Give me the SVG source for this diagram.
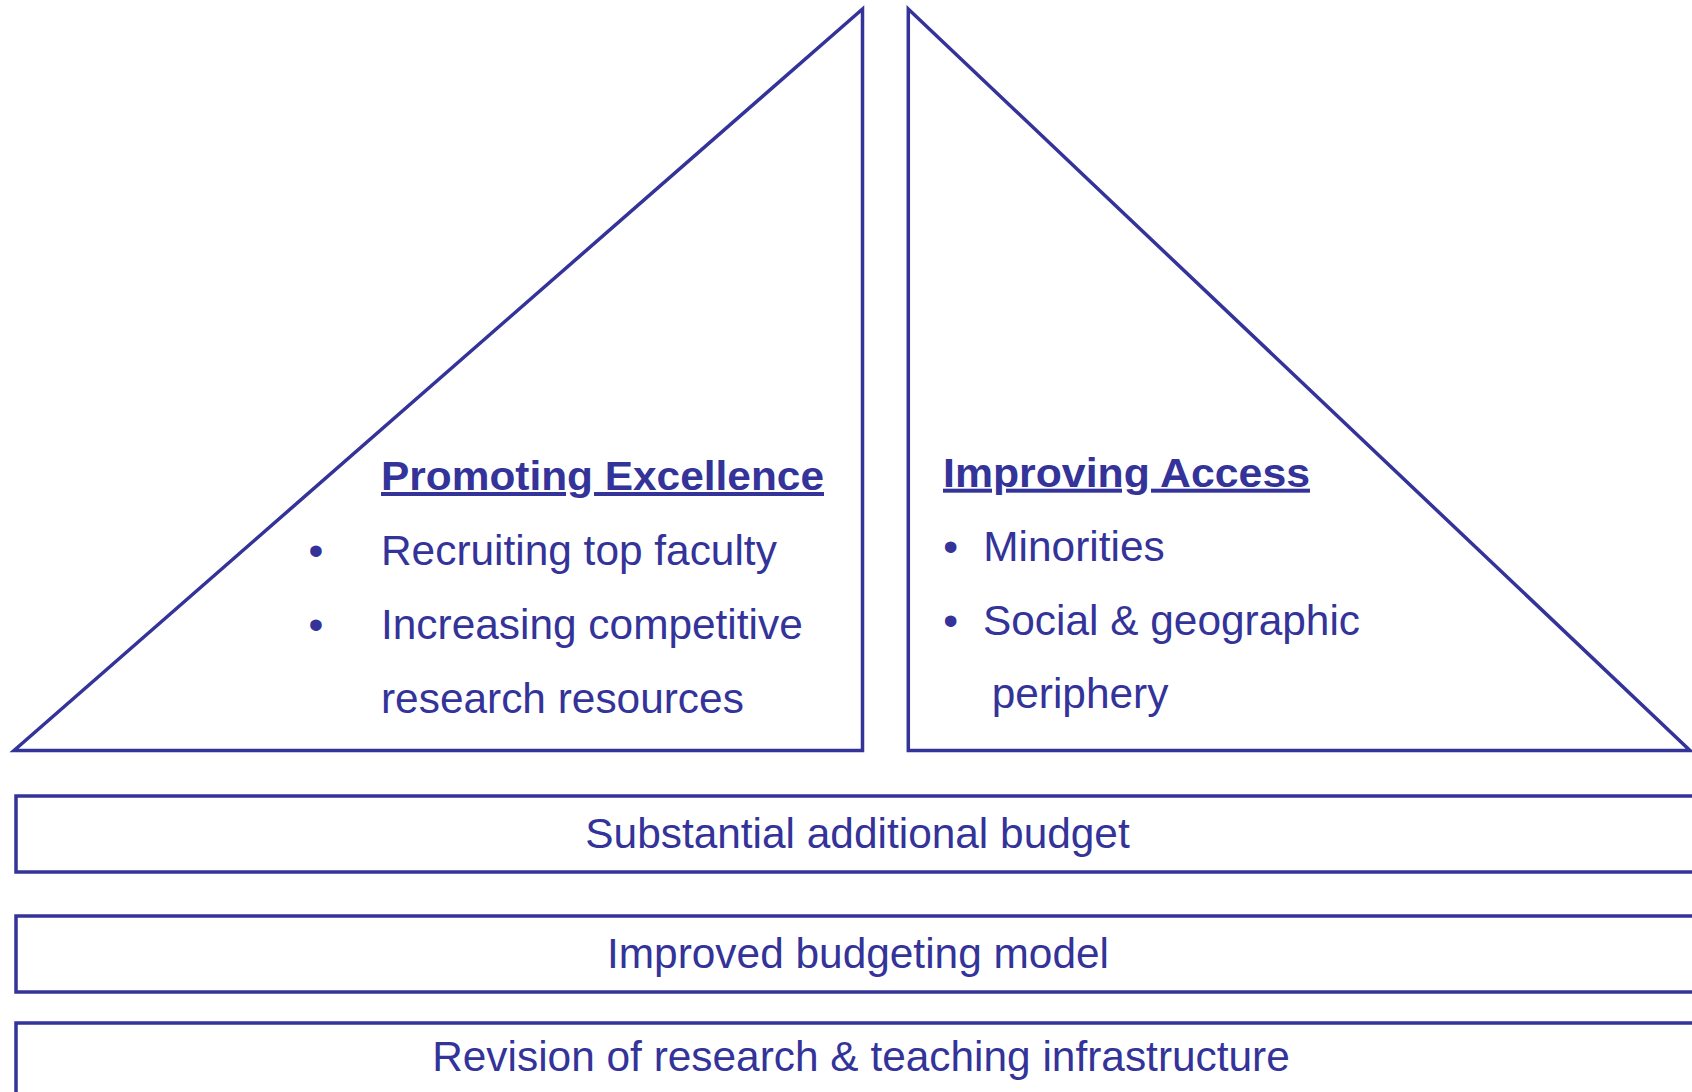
<svg xmlns="http://www.w3.org/2000/svg" width="1692" height="1092" viewBox="0 0 1692 1092">
<style>
.shape{fill:#ffffff;stroke:#333399;stroke-width:3.5;stroke-linejoin:miter}
.t{font-family:"Liberation Sans",Arial,sans-serif;fill:#333399}
.h{font-weight:bold;font-size:40px;text-decoration:underline}
.b{font-size:42.4px}
.c{text-anchor:middle}
</style>
<rect width="1692" height="1092" fill="#ffffff"/>
<g id="excellence">
<polygon class="shape" points="14,750.5 862.5,9 862.5,750.5"/>
<text class="t h" x="381" y="490" textLength="443" lengthAdjust="spacingAndGlyphs">Promoting Excellence</text>
<text class="t b" x="308.6" y="565">•</text>
<text class="t b" x="381" y="565">Recruiting top faculty</text>
<text class="t b" x="308.6" y="639.3">•</text>
<text class="t b" x="381" y="639.3">Increasing competitive</text>
<text class="t b" x="381" y="713.3">research resources</text>
</g>
<g id="access">
<polygon class="shape" points="908.3,9 908.3,750.5 1690,750.5"/>
<text class="t h" x="943" y="486.7" textLength="367" lengthAdjust="spacingAndGlyphs">Improving Access</text>
<text class="t b" x="943.3" y="560.7">•</text>
<text class="t b" x="983.3" y="560.7">Minorities</text>
<text class="t b" x="943.3" y="635">•</text>
<text class="t b" x="983" y="635">Social &amp; geographic</text>
<text class="t b" x="991.7" y="708.3">periphery</text>
</g>
<g id="budget">
<rect class="shape" x="16" y="796" width="1700" height="76"/>
<text class="t b c" x="857.5" y="848">Substantial additional budget</text>
</g>
<g id="model">
<rect class="shape" x="16" y="916" width="1700" height="76"/>
<text class="t b c" x="858" y="968">Improved budgeting model</text>
</g>
<g id="infrastructure">
<rect class="shape" x="16" y="1023" width="1700" height="100"/>
<text class="t b c" x="861" y="1070.7">Revision of research &amp; teaching infrastructure</text>
</g>
<g id="connectors"/>
</svg>
